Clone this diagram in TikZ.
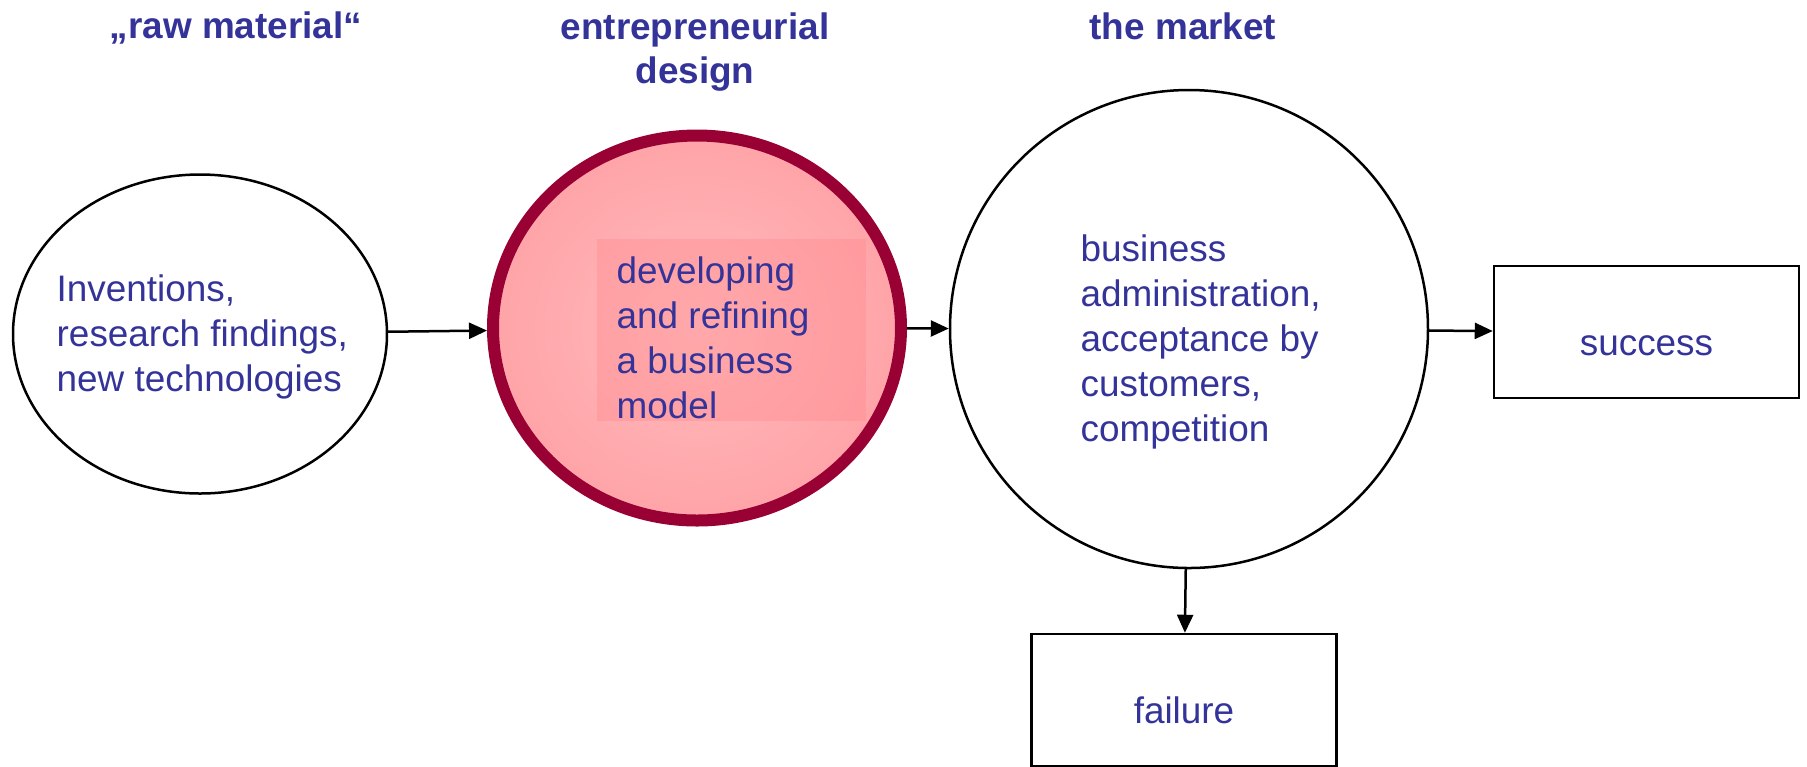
\documentclass[tikz,border=0pt]{standalone}
\usepackage{fontspec}
\setmainfont{Liberation Sans}
\usetikzlibrary{arrows.meta}
\usetikzlibrary{shapes.geometric}

\definecolor{textblue}{RGB}{51,51,153}
\definecolor{borderred}{RGB}{153,0,51}
\definecolor{lightpink}{RGB}{255,186,188}
\definecolor{midpink}{RGB}{255,164,168}
\definecolor{boxpink}{RGB}{255,135,140}

\tikzset{
  txt/.style={font=\fontsize{10.5}{12.8}\selectfont, text=textblue, inner sep=0pt},
  head/.style={font=\fontsize{10.5}{12.5}\selectfont\bfseries, text=textblue, align=center, inner sep=0pt, anchor=base},
  arr/.style={-{Triangle[length=1.8mm,width=1.6mm]}, line width=0.25mm},
  outcome/.style={draw, line width=0.25mm, minimum width=30.5mm, minimum height=13.2mm, inner sep=0pt,
    font=\fontsize{10.5}{12.8}\selectfont, text=textblue, text height=4.6mm, text depth=0mm}
}

\begin{document}
\begin{tikzpicture}[x=0.1mm, y=-0.1mm]
      \useasboundingbox (0,0) rectangle (1807,766);

      % the anchor base of a node with several lines sits on its last line
      \node[head] (rawhead) at (236,38) {„raw material“};
      \node[head] (designhead) at (695,83) {entrepreneurial\\design};
      \node[head] (markethead) at (1183,39) {the market};

      \node[ellipse, draw, line width=0.25mm, minimum width=37.4mm, minimum height=31.9mm, inner sep=0pt] (raw) at (200,334) {};
      \node[ellipse, draw=borderred, line width=1.2mm, minimum width=40.8mm, minimum height=38.5mm, inner sep=0pt,
        inner color=lightpink, outer color=midpink] (design) at (697,328) {};
      \node[circle, draw, line width=0.25mm, minimum size=47.8mm, inner sep=0pt] (market) at (1189,329) {};

      % darker patch behind the text of the middle circle
      \fill[boxpink, opacity=0.35] (597,239) rectangle (866,421);

      \node[txt, align=left, anchor=base west] (rawtext) at (56,391) {Inventions,\\research findings,\\new technologies};
      \node[txt, align=left, anchor=base west] (designtext) at (616,418) {developing\\and refining\\a business\\model};
      \node[txt, align=left, anchor=base west] (markettext) at (1080,441) {business\\administration,\\acceptance by\\customers,\\competition};

      \node[outcome] (success) at (1646.5,332) {success};
      \node[outcome] (failure) at (1184,700) {failure};

      \draw[arr] (raw) -- (design);
      \draw[arr] (design) -- (market);
      \draw[arr] (market) -- (success);
      \draw[arr] (market) -- (failure);
\end{tikzpicture}
\end{document}
